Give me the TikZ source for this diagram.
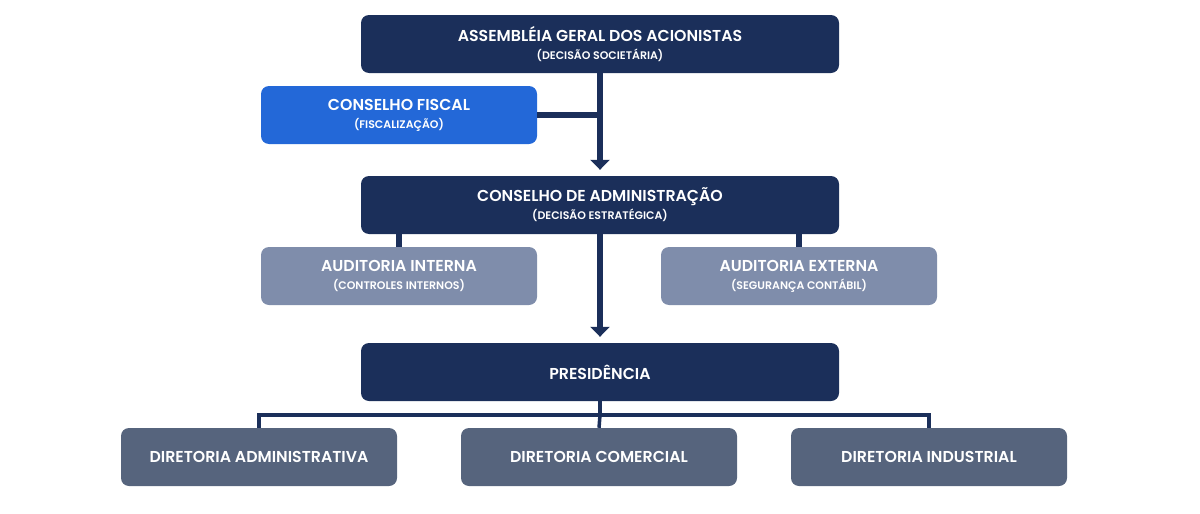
\documentclass[tikz,border=0pt]{standalone}
\usepackage{fontspec}
\setmainfont{Poppins}[UprightFont=* SemiBold,BoldFont=* SemiBold]
\usetikzlibrary{arrows.meta}
\definecolor{navy}{HTML}{1B2F5A}
\definecolor{fiscal}{HTML}{2368D8}
\definecolor{audit}{HTML}{7F8DAB}
\definecolor{dirc}{HTML}{56647D}
\begin{document}
\begin{tikzpicture}[x=1pt,y=-1pt,
  box/.style={rounded corners=8pt,minimum height=58pt,inner sep=0pt,text=white,align=center,font=\fontsize{15.8}{17}\selectfont},
  wide/.style={box,fill=navy,minimum width=478pt},
  mid/.style={box,minimum width=276pt},
  link/.style={draw=navy,line width=6pt},
  thin/.style={draw=navy,line width=3.5pt},
  arr/.style={link,shorten >=6pt,-{Triangle[width=19pt,length=10pt]}}]
\useasboundingbox (0,0) rectangle (1200,514);
\newcommand{\sub}[1]{\\[1pt]{\fontsize{11}{12}\selectfont #1}}
\node[wide] (ag) at (600,44) {ASSEMBLÉIA GERAL DOS ACIONISTAS\sub{(DECISÃO SOCIETÁRIA)}};
\node[mid,fill=fiscal] (cf) at (399,115) {CONSELHO FISCAL\sub{(FISCALIZAÇÃO)}};
\node[wide] (ca) at (600,205) {CONSELHO DE ADMINISTRAÇÃO\sub{(DECISÃO ESTRATÉGICA)}};
\node[mid,fill=audit] (ai) at (399,276) {AUDITORIA INTERNA\sub{(CONTROLES INTERNOS)}};
\node[mid,fill=audit] (ae) at (799,276) {AUDITORIA EXTERNA\sub{(SEGURANÇA CONTÁBIL)}};
\node[wide] (pr) at (600,372) {PRESIDÊNCIA};
\node[mid,fill=dirc] (da) at (259,457) {DIRETORIA ADMINISTRATIVA};
\node[mid,fill=dirc] (dc) at (599,457) {DIRETORIA COMERCIAL};
\node[mid,fill=dirc] (di) at (929,457) {DIRETORIA INDUSTRIAL};
\coordinate (j1) at (600,115);
\coordinate (j2) at (600,415);
\draw[arr] (ag.south) -- (ca.north);
\draw[link] (cf.east) -- (j1);
\draw[link] (ca.south) ++(-201,0) -- (ai.north);
\draw[link] (ca.south) ++(199,0) -- (ae.north);
\draw[arr] (ca.south) -- (pr.north);
\draw[thin] (pr.south) -- (j2);
\draw[thin] (da.north) |- (j2) -| (di.north);
\draw[thin] (j2) -- (dc.north);
\end{tikzpicture}
\end{document}
